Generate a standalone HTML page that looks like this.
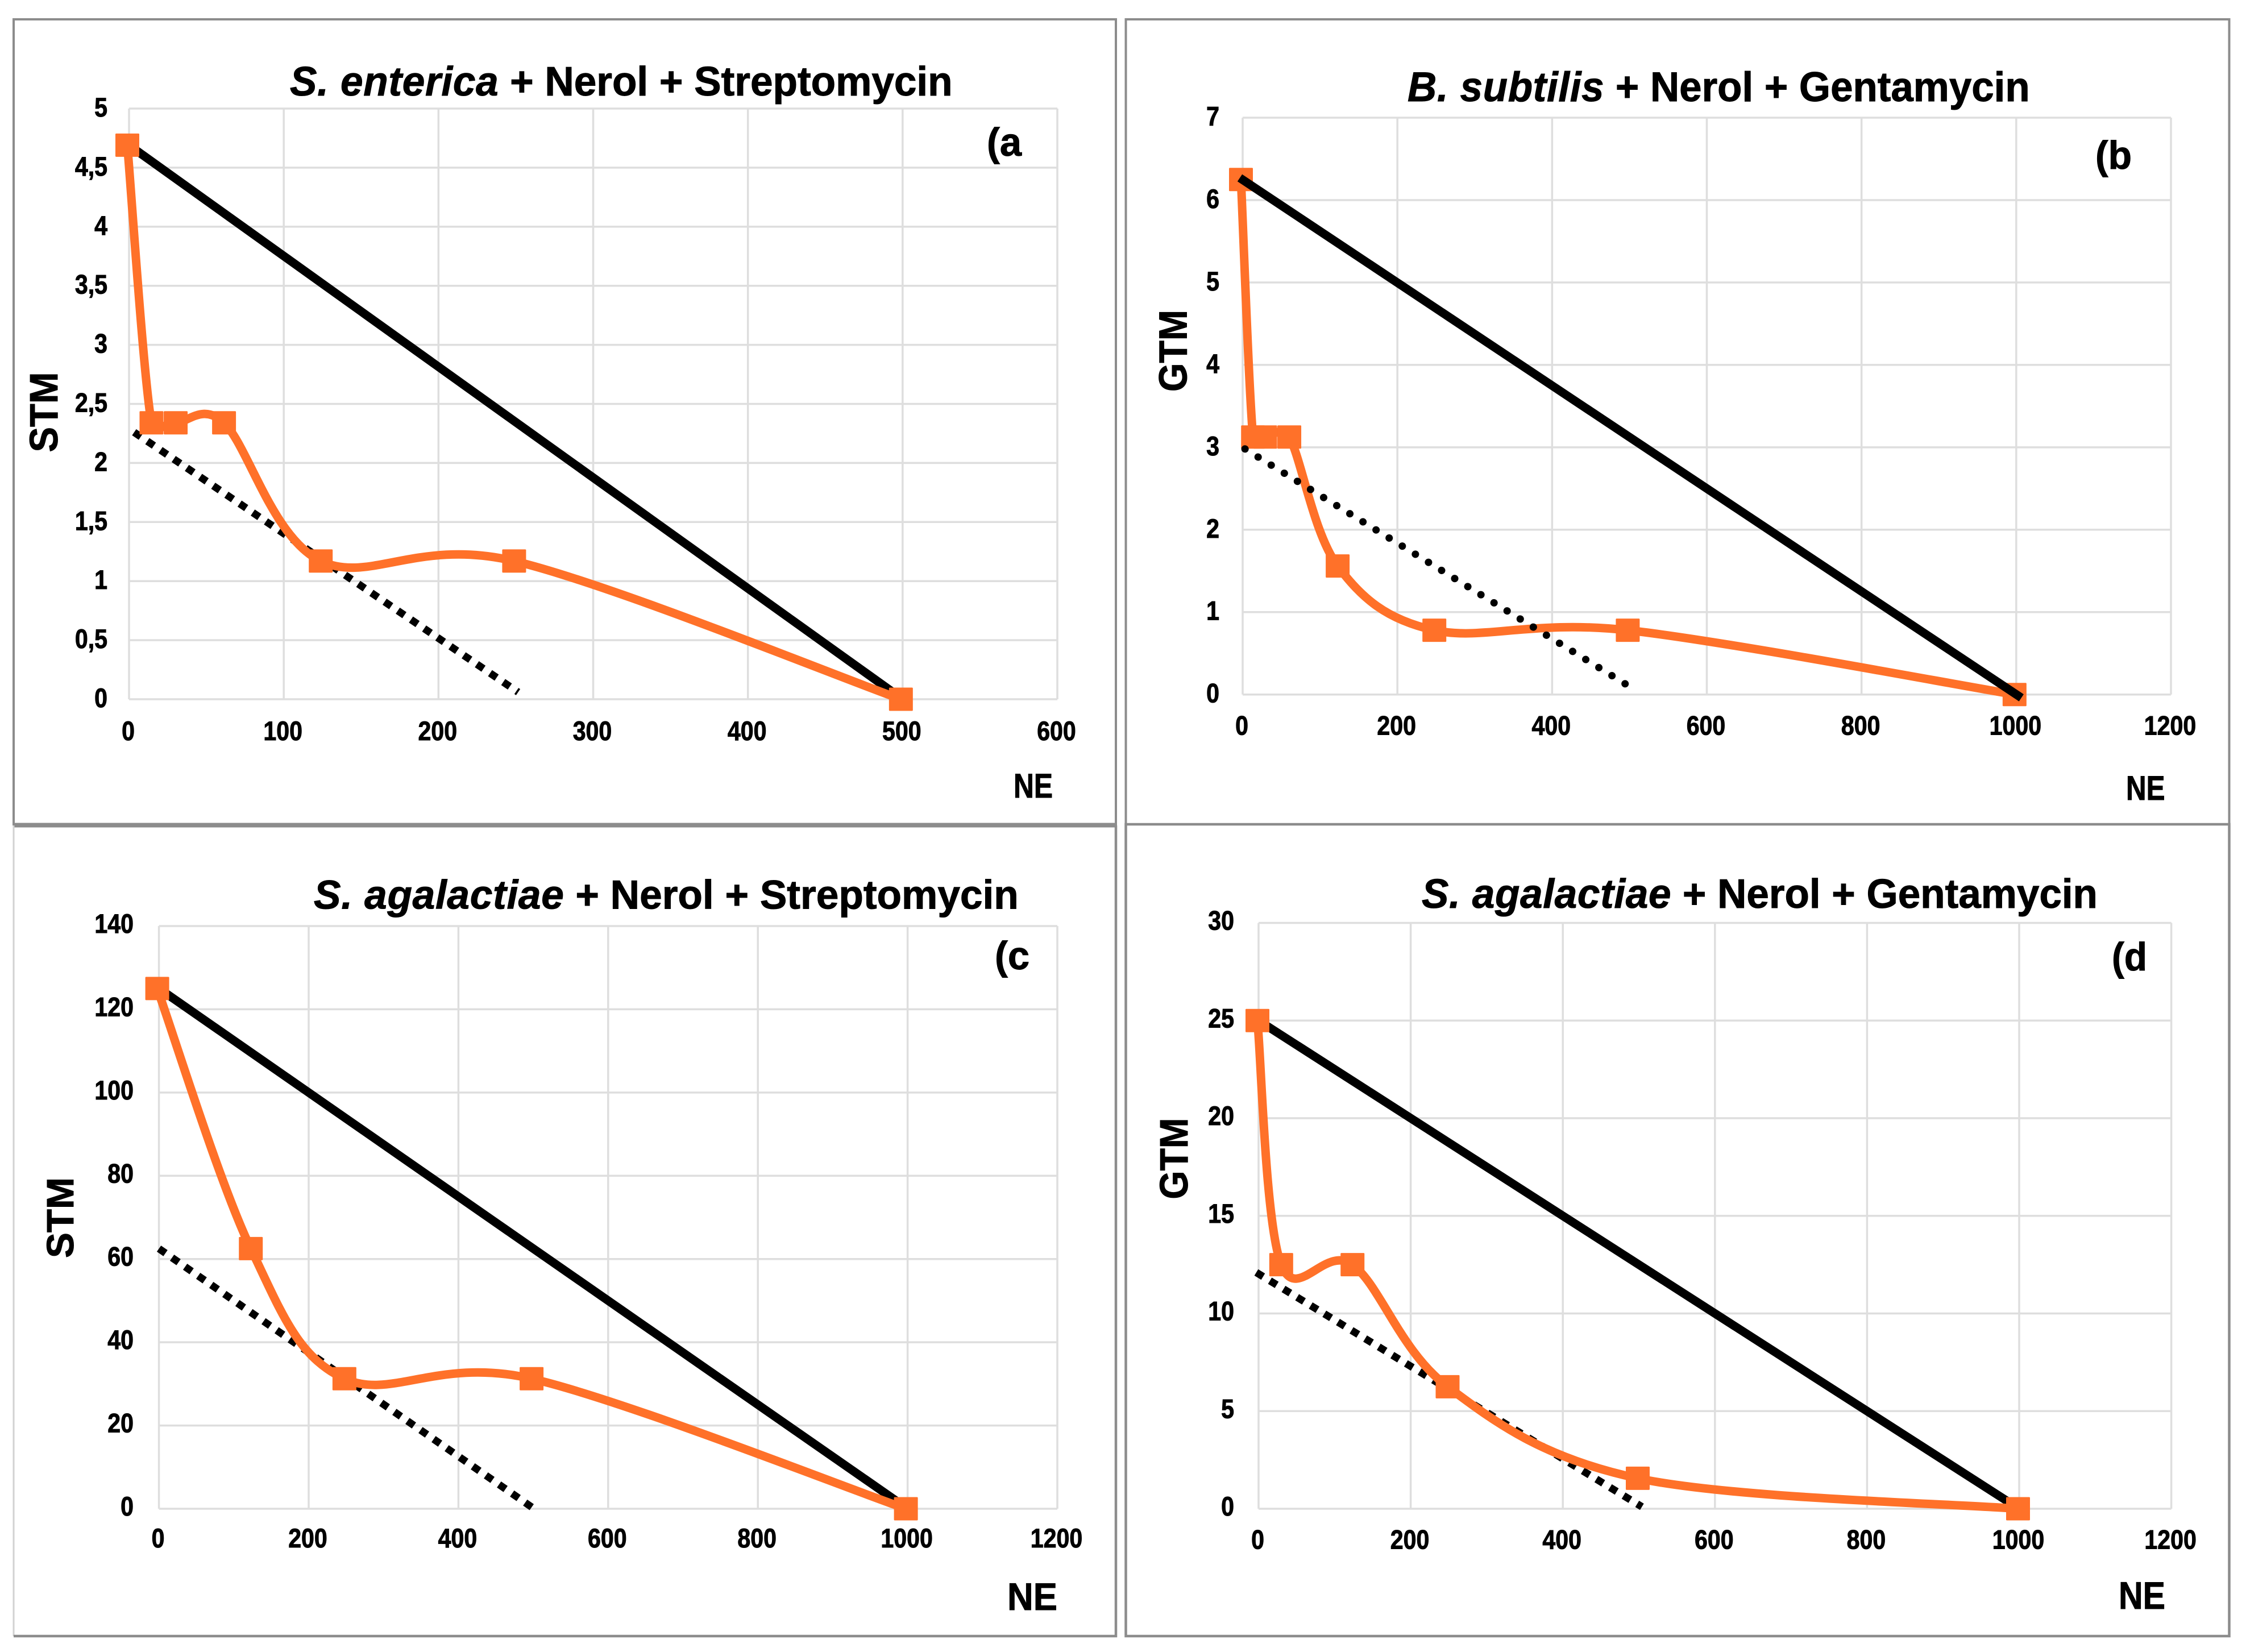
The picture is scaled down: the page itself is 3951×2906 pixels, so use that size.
<!DOCTYPE html>
<html lang="en">
<head>
<meta charset="utf-8">
<title>Isobolograms: Nerol combinations</title>
<style>
html,body{margin:0;padding:0;background:#fff;width:3951px;height:2906px;overflow:hidden}
svg{display:block}
text{font-family:"Liberation Sans",Arial,sans-serif;font-weight:700;fill:#000;stroke:#000;stroke-width:1}
</style>
</head>
<body>
<svg id="chart" xmlns="http://www.w3.org/2000/svg" width="3951" height="2906" viewBox="0 0 3951 2906"></svg>
<script>
// ---- panel (a) data ----
const aXTicks = [0, 100, 200, 300, 400, 500, 600];
const aYTicks = ["0", "0,5", "1", "1,5", "2", "2,5", "3", "3,5", "4", "4,5", "5"];
const aYTickValues = [0, 0.5, 1, 1.5, 2, 2.5, 3, 3.5, 4, 4.5, 5];
const aCurveX = [0, 15.6, 31.25, 62.5, 125, 250, 500];
const aCurveY = [4.69, 2.34, 2.34, 2.34, 1.17, 1.17, 0];
const aAdditiveX = [0, 500];
const aAdditiveY = [4.69, 0];
const aDottedX = [3.3, 251.5];
const aDottedY = [2.26, 0.06];
// ---- panel (b) data ----
const bXTicks = [0, 200, 400, 600, 800, 1000, 1200];
const bYTicks = ["0", "1", "2", "3", "4", "5", "6", "7"];
const bYTickValues = [0, 1, 2, 3, 4, 5, 6, 7];
const bCurveX = [0, 15.6, 31.25, 62.5, 125, 250, 500, 1000];
const bCurveY = [6.25, 3.125, 3.125, 3.125, 1.56, 0.78, 0.78, 0];
const bAdditiveX = [-3.7, 1006.6];
const bAdditiveY = [6.27, -0.04];
const bDottedX = [3, 503];
const bDottedY = [2.98, 0.08];
// ---- panel (c) data ----
const cXTicks = [0, 200, 400, 600, 800, 1000, 1200];
const cYTicks = ["0", "20", "40", "60", "80", "100", "120", "140"];
const cYTickValues = [0, 20, 40, 60, 80, 100, 120, 140];
const cCurveX = [0, 125, 250, 500, 1000];
const cCurveY = [125, 62.5, 31.25, 31.25, 0];
const cAdditiveX = [0, 1000];
const cAdditiveY = [125, 0];
const cDottedX = [0, 501];
const cDottedY = [62.5, 0];
// ---- panel (d) data ----
const dXTicks = [0, 200, 400, 600, 800, 1000, 1200];
const dYTicks = ["0", "5", "10", "15", "20", "25", "30"];
const dYTickValues = [0, 5, 10, 15, 20, 25, 30];
const dCurveX = [0, 31.25, 125, 250, 500, 1000];
const dCurveY = [25, 12.5, 12.5, 6.25, 1.56, 0];
const dAdditiveX = [0, 1000];
const dAdditiveY = [25, 0];
const dDottedX = [-3, 504];
const dDottedY = [12.1, 0.1];

const NS = "http://www.w3.org/2000/svg";
const root = document.getElementById("chart");
const ORANGE = "#ff7129";
const GRID = "#dedede";
const FRAME = "#8c8c8c";

function make(tag, attrs, parent) {
  const n = document.createElementNS(NS, tag);
  for (const k in attrs) n.setAttribute(k, attrs[k]);
  parent.appendChild(n);
  return n;
}

// Places text, squeezing horizontally: sx fixed, or derived from a target width.
function placeText(node, x, y, anchor, sx, width, rotate) {
  node.setAttribute("text-anchor", anchor);
  let s = sx || 1;
  if (width) s = width / node.getComputedTextLength();
  const r = rotate ? " rotate(-90)" : "";
  node.setAttribute("transform", "translate(" + x + "," + y + ")" + r + " scale(" + s + ",1)");
}

// Limits a control vector to a fraction of its segment length (keeps closely spaced points from overshooting).
function clampVec(vx, vy, segLen) {
  const len = Math.hypot(vx, vy), limit = 0.6 * segLen;
  if (len > limit && len > 0) return [vx * limit / len, vy * limit / len];
  return [vx, vy];
}

// Catmull-Rom style smoothing, as used for spreadsheet smoothed scatter lines.
function smoothPath(pts) {
  let d = "M" + pts[0][0] + "," + pts[0][1];
  for (let i = 0; i < pts.length - 1; i++) {
    const p0 = pts[Math.max(i - 1, 0)], p1 = pts[i], p2 = pts[i + 1], p3 = pts[Math.min(i + 2, pts.length - 1)];
    const seg = Math.hypot(p2[0] - p1[0], p2[1] - p1[1]);
    const a = clampVec((p2[0] - p0[0]) / 6, (p2[1] - p0[1]) / 6, seg);
    const b = clampVec((p3[0] - p1[0]) / 6, (p3[1] - p1[1]) / 6, seg);
    d += " C" + (p1[0] + a[0]) + "," + (p1[1] + a[1]) + " " + (p2[0] - b[0]) + "," + (p2[1] - b[1]) + " " + p2[0] + "," + p2[1];
  }
  return d;
}

function drawPanel(cfg) {
  const g = make("g", {}, root);
  
  
  const xMax = cfg.xTicks[cfg.xTicks.length - 1];
  const yMax = cfg.yTickValues[cfg.yTickValues.length - 1];
  const X = v => cfg.l + (v / xMax) * (cfg.r - cfg.l);
  const Y = v => cfg.b - (v / yMax) * (cfg.b - cfg.t);

  // gridlines
  cfg.yTickValues.forEach(v => {
    const line = make("line", {x1: cfg.l, x2: cfg.r, y1: Y(v), y2: Y(v), stroke: GRID, "stroke-width": 3.5}, g);
    
    
  });
  cfg.xTicks.forEach(v => {
    const line = make("line", {x1: X(v), x2: X(v), y1: cfg.t, y2: cfg.b, stroke: GRID, "stroke-width": 3.5}, g);
    
    
  });

  // tick labels
  cfg.yTicks.forEach((label, i) => {
    const t = make("text", {"font-size": 47}, g);
    t.textContent = label;
    
    
    placeText(t, cfg.yTickRight, Y(cfg.yTickValues[i]) + cfg.yTickShift, "end", 0.875);
  });
  cfg.xTicks.forEach(v => {
    const t = make("text", {"font-size": 47}, g);
    t.textContent = String(v);
    
    
    placeText(t, X(v) - 1.5, cfg.xTickBase, "middle", 0.875);
  });

  // title
  const title = make("text", {"font-size": cfg.titleSize}, g);
  
  
  const ital = make("tspan", {"font-style": "italic", "letter-spacing": 0.7}, title);
  ital.textContent = cfg.species;
  const rest = make("tspan", {}, title);
  rest.textContent = cfg.rest;
  placeText(title, cfg.titleX, cfg.titleBase, "start", 0, cfg.titleWidth);

  // panel tag
  const tag = make("text", {"font-size": 70}, g);
  tag.textContent = cfg.tag;
  
  
  placeText(tag, cfg.tagX, cfg.tagBase, "start", 0, cfg.tagWidth);

  // axis titles
  const yt = make("text", {"font-size": cfg.yTitleSize}, g);
  yt.textContent = cfg.yTitle;
  
  
  placeText(yt, cfg.yTitleBase, cfg.yTitleCenter, "middle", 0, cfg.yTitleLen, true);
  const xt = make("text", {"font-size": cfg.xTitleSize}, g);
  xt.textContent = "NE";
  
  
  placeText(xt, cfg.xTitleX, cfg.xTitleBase, "start", 0, cfg.xTitleWidth);

  // additive isobole (straight black line)
  function drawAdditive() {
    const n = make("line", {
      x1: X(cfg.addX[0]), y1: Y(cfg.addY[0]), x2: X(cfg.addX[1]), y2: Y(cfg.addY[1]),
      stroke: "#000", "stroke-width": 15}, g);
    
    
  }
  // dotted line
  function drawDotted() {
    const attrs = {
      x1: X(cfg.dotX[0]), y1: Y(cfg.dotY[0]), x2: X(cfg.dotX[1]), y2: Y(cfg.dotY[1]),
      stroke: "#000", "stroke-width": 13,
      "stroke-dasharray": cfg.roundDots ? "0.1 27" : "14 14",
      "stroke-linecap": cfg.roundDots ? "round" : "butt"};
    const n = make("line", attrs, g);
    
    
  }
  // orange curve with square markers
  function drawCurve() {
    const pts = cfg.curveX.map((v, i) => [X(v) + cfg.dx, Y(cfg.curveY[i])]);
    const path = make("path", {d: smoothPath(pts), fill: "none", stroke: ORANGE, "stroke-width": 15}, g);
    
    
    pts.forEach(p => {
      const m = make("rect", {x: p[0] - 21, y: p[1] - 20.5, width: 42, height: 41, rx: 1.5, fill: ORANGE}, g);
      
      
    });
  }
  if (cfg.blackOnTop) { drawCurve(); drawAdditive(); drawDotted(); }
  else { drawAdditive(); drawDotted(); drawCurve(); }
}

drawPanel({id: "a", l: 227, t: 191, r: 1860, b: 1230, dx: -3,
  xTicks: aXTicks, yTicks: aYTicks, yTickValues: aYTickValues,
  curveX: aCurveX, curveY: aCurveY, addX: aAdditiveX, addY: aAdditiveY, dotX: aDottedX, dotY: aDottedY,
  yTickRight: 189, yTickShift: 14, xTickBase: 1302,
  species: "S. enterica", rest: " + Nerol + Streptomycin", titleSize: 72, titleX: 510, titleBase: 168, titleWidth: 1166,
  tag: "(a", tagX: 1736, tagBase: 274, tagWidth: 61,
  yTitle: "STM", yTitleSize: 70, yTitleBase: 101, yTitleCenter: 725, yTitleLen: 141,
  xTitleSize: 60, xTitleX: 1783, xTitleBase: 1403, xTitleWidth: 69});

drawPanel({id: "b", l: 2186, t: 207, r: 3819, b: 1221.7, dx: -3, blackOnTop: true, roundDots: true,
  xTicks: bXTicks, yTicks: bYTicks, yTickValues: bYTickValues,
  curveX: bCurveX, curveY: bCurveY, addX: bAdditiveX, addY: bAdditiveY, dotX: bDottedX, dotY: bDottedY,
  yTickRight: 2145, yTickShift: 14, xTickBase: 1292.5,
  species: "B. subtilis", rest: " + Nerol + Gentamycin", titleSize: 73, titleX: 2476, titleBase: 178, titleWidth: 1095,
  tag: "(b", tagX: 3686, tagBase: 297, tagWidth: 64,
  yTitle: "GTM", yTitleSize: 70, yTitleBase: 2087.5, yTitleCenter: 617, yTitleLen: 144,
  xTitleSize: 60, xTitleX: 3740, xTitleBase: 1407, xTitleWidth: 68.5});

drawPanel({id: "c", l: 279.6, t: 1629, r: 1860, b: 2654, dx: -3,
  xTicks: cXTicks, yTicks: cYTicks, yTickValues: cYTickValues,
  curveX: cCurveX, curveY: cCurveY, addX: cAdditiveX, addY: cAdditiveY, dotX: cDottedX, dotY: cDottedY,
  yTickRight: 235, yTickShift: 12, xTickBase: 2722,
  species: "S. agalactiae", rest: " + Nerol + Streptomycin", titleSize: 71, titleX: 552, titleBase: 1598.6, titleWidth: 1240,
  tag: "(c", tagX: 1750, tagBase: 1705, tagWidth: 61,
  yTitle: "STM", yTitleSize: 67, yTitleBase: 129, yTitleCenter: 2142, yTitleLen: 142,
  xTitleSize: 68, xTitleX: 1772, xTitleBase: 2832, xTitleWidth: 88});

drawPanel({id: "d", l: 2214, t: 1623.5, r: 3819.6, b: 2654, dx: -2,
  xTicks: dXTicks, yTicks: dYTicks, yTickValues: dYTickValues,
  curveX: dCurveX, curveY: dCurveY, addX: dAdditiveX, addY: dAdditiveY, dotX: dDottedX, dotY: dDottedY,
  yTickRight: 2171, yTickShift: 12, xTickBase: 2724.5,
  species: "S. agalactiae", rest: " + Nerol + Gentamycin", titleSize: 72, titleX: 2501, titleBase: 1597, titleWidth: 1189,
  tag: "(d", tagX: 3715, tagBase: 1707, tagWidth: 62,
  yTitle: "GTM", yTitleSize: 70, yTitleBase: 2089, yTitleCenter: 2038, yTitleLen: 143,
  xTitleSize: 68, xTitleX: 3727, xTitleBase: 2830, xTitleWidth: 82});

// panel frames
const topLeftFrame = make("path", {d: "M24,1452 V34 H1963 V1452", fill: "none", stroke: FRAME, "stroke-width": 4}, root);


const panelDivider = make("line", {x1: 24, x2: 1963, y1: 1451.5, y2: 1451.5, stroke: FRAME, "stroke-width": 8}, root);


const topRightFrame = make("rect", {x: 1980.5, y: 34, width: 1941, height: 1416, fill: "none", stroke: FRAME, "stroke-width": 4}, root);


const lowerLeftEdge = make("line", {x1: 24, x2: 24, y1: 1452, y2: 2878, stroke: "#d2d2d2", "stroke-width": 3}, root);


const lowerLeftFrame = make("path", {d: "M24,2878 H1963 V1452", fill: "none", stroke: FRAME, "stroke-width": 4.5}, root);


const lowerRightFrame = make("rect", {x: 1980.5, y: 1450, width: 1941, height: 1428, fill: "none", stroke: FRAME, "stroke-width": 4.5}, root);


</script>
</body>
</html>
